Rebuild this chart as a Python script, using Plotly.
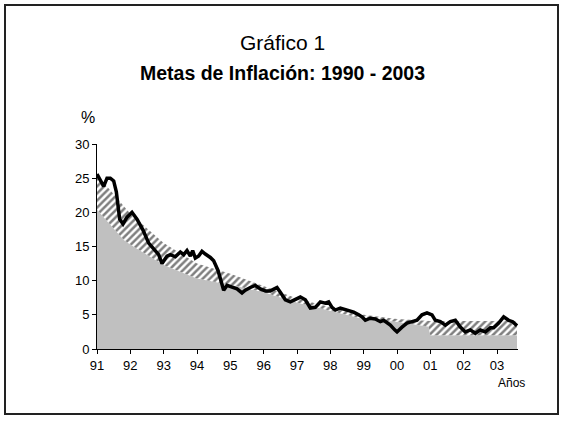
import plotly.graph_objects as go

# Inflation (12-month, %)
line_t = [1991.00, 1991.10, 1991.20, 1991.30, 1991.40, 1991.50, 1991.58, 1991.68, 1991.78, 1991.90,
          1992.05, 1992.20, 1992.38, 1992.55, 1992.72, 1992.85, 1992.95, 1993.10, 1993.20, 1993.35,
          1993.50, 1993.60, 1993.70, 1993.80, 1993.87, 1993.95, 1994.05, 1994.15, 1994.25, 1994.40,
          1994.50, 1994.63, 1994.73, 1994.80, 1994.90, 1995.05, 1995.20, 1995.35, 1995.45, 1995.60,
          1995.75, 1995.90, 1996.05, 1996.20, 1996.40, 1996.50, 1996.65, 1996.80, 1996.95, 1997.10,
          1997.25, 1997.40, 1997.55, 1997.70, 1997.85, 1997.95, 1998.05, 1998.15, 1998.30, 1998.50,
          1998.70, 1998.85, 1998.95, 1999.05, 1999.20, 1999.35, 1999.50, 1999.60, 1999.80, 1999.93,
          2000.00, 2000.15, 2000.30, 2000.45, 2000.60, 2000.75, 2000.90, 2001.05, 2001.15, 2001.30,
          2001.45, 2001.60, 2001.75, 2001.90, 2002.05, 2002.20, 2002.35, 2002.50, 2002.65, 2002.80,
          2002.90, 2003.05, 2003.20, 2003.35, 2003.47, 2003.60]
inflation = [25.6, 24.8, 23.8, 25.0, 25.0, 24.6, 23.0, 19.0, 18.3, 19.3,
             20.0, 19.0, 17.4, 15.5, 14.5, 13.8, 12.5, 13.6, 13.8, 13.5,
             14.2, 13.8, 14.4, 13.6, 14.4, 13.3, 13.6, 14.3, 13.9, 13.4,
             12.9, 11.5, 9.8, 8.6, 9.3, 9.0, 8.8, 8.2, 8.6, 9.0,
             9.3, 8.8, 8.5, 8.5, 9.0, 8.3, 7.2, 6.9, 7.2, 7.6,
             7.2, 6.0, 6.1, 6.9, 6.7, 6.9, 6.1, 5.7, 6.0, 5.7,
             5.4, 5.0, 4.7, 4.2, 4.5, 4.4, 4.0, 4.2, 3.5, 2.8,
             2.5, 3.2, 3.8, 4.0, 4.2, 5.0, 5.3, 5.0, 4.2, 4.0,
             3.5, 4.0, 4.2, 3.2, 2.5, 2.8, 2.3, 2.8, 2.5, 3.1,
             3.1, 3.8, 4.7, 4.2, 4.0, 3.4]

# Target band (lower / upper bound)
band_t = [1991.0, 1991.8, 1992.0, 1993.0, 1994.0, 1995.0, 1996.0, 1997.0, 1998.0, 1999.0,
          2000.0, 2000.95, 2001.0, 2003.6]
band_low = [20.4, 16.0, 15.3, 12.3, 10.3, 9.4, 8.3, 6.8, 5.6, 4.4, 4.0, 3.3, 2.0, 2.0]
band_high = [25.5, 21.0, 19.8, 15.5, 12.5, 11.0, 9.2, 7.4, 6.1, 5.0, 4.4, 4.1, 4.1, 4.1]

year_ticks = list(range(1991, 2004))
year_labels = ["91", "92", "93", "94", "95", "96", "97", "98", "99", "00", "01", "02", "03"]
y_ticks = [0, 5, 10, 15, 20, 25, 30]

FONT = "Liberation Sans, Arial, sans-serif"

fig = go.Figure()
fig.add_trace(go.Scatter(x=band_t, y=band_low, mode="lines", line=dict(width=0),
                         fill="tozeroy", fillcolor="#c0c0c0", hoverinfo="skip"))
fig.add_trace(go.Scatter(x=band_t, y=band_high, mode="lines", line=dict(width=0),
                         fill="tonexty", fillcolor="white",
                         fillpattern=dict(shape="/", fgcolor="black", bgcolor="white",
                                          size=5, solidity=0.5),
                         hoverinfo="skip"))
fig.add_trace(go.Scatter(x=line_t, y=inflation, mode="lines",
                         line=dict(color="black", width=3.5)))

L, R, T, B = 97, 46, 144, 75
W, H = 564, 424
pw, ph = W - L - R, H - T - B

def px_x(p):
    return (p - L) / pw

def px_y(p):
    return (H - B - p) / ph

fig.update_layout(
    width=W, height=H,
    margin=dict(l=L, r=R, t=T, b=B),
    paper_bgcolor="white", plot_bgcolor="white",
    showlegend=False,
    font=dict(family=FONT, size=13, color="black"),
    xaxis=dict(range=[1991, 2003.63], tickvals=year_ticks, ticktext=year_labels,
               ticks="outside", ticklen=4, tickcolor="black", showline=True,
               linecolor="black", linewidth=1, showgrid=False, zeroline=False,
               tickfont=dict(size=13)),
    yaxis=dict(range=[0, 30], tickvals=y_ticks, ticks="outside", ticklen=4,
               tickcolor="black", showline=True, linecolor="black", linewidth=1,
               showgrid=False, zeroline=False, tickfont=dict(size=13)),
    annotations=[
        dict(text="Gráfico 1", xref="paper", yref="paper", x=px_x(282), y=px_y(42),
             showarrow=False, font=dict(size=21), xanchor="center", yanchor="middle"),
        dict(text="<b>Metas de Inflación: 1990 - 2003</b>", xref="paper", yref="paper",
             x=px_x(282), y=px_y(73), showarrow=False, font=dict(size=19.5),
             xanchor="center", yanchor="middle"),
        dict(text="%", xref="paper", yref="paper", x=px_x(88), y=px_y(117),
             showarrow=False, font=dict(size=16), xanchor="center", yanchor="middle"),
        dict(text="Años", xref="paper", yref="paper", x=px_x(511), y=px_y(383),
             showarrow=False, font=dict(size=12), xanchor="center", yanchor="middle"),
    ],
    shapes=[dict(type="rect", xref="paper", yref="paper",
                 x0=px_x(5), x1=px_x(558), y0=px_y(414), y1=px_y(5),
                 line=dict(color="#222222", width=2), layer="below")],
)

fig.write_html("out.html", config={"displayModeBar": False},
               post_script="document.body.style.margin='0px';")
